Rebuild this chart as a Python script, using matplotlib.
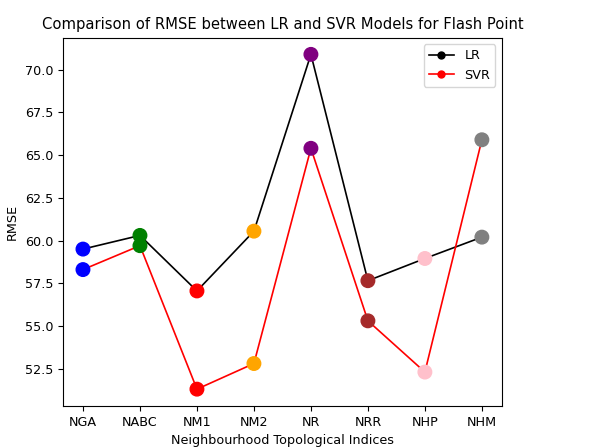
import matplotlib.pyplot as plt

indices = ['NGA', 'NABC', 'NM1', 'NM2', 'NR', 'NRR', 'NHP', 'NHM']
lr_rmse = [59.5, 60.3, 57.05, 60.55, 70.9, 57.65, 58.95, 60.2]
svr_rmse = [58.3, 59.7, 51.3, 52.8, 65.4, 55.3, 52.3, 65.9]
point_colors = ['blue', 'green', 'red', 'orange', 'purple', 'brown', 'pink', 'gray']

fig = plt.figure(figsize=(5.89, 4.48), dpi=100)
ax = fig.add_axes([0.107, 0.094, 0.745, 0.822])

# lines with small markers (these give the legend entries)
ax.plot(indices, lr_rmse, color='black', marker='o', markersize=5, linewidth=1.2, label='LR')
ax.plot(indices, svr_rmse, color='red', marker='o', markersize=5, linewidth=1.2, label='SVR')
# coloured dots per index on top
ax.scatter(indices, lr_rmse, c=point_colors, s=95, zorder=3)
ax.scatter(indices, svr_rmse, c=point_colors, s=95, zorder=3)

ax.set_xlabel('Neighbourhood Topological Indices', fontsize=9.2)
ax.set_ylabel('RMSE', fontsize=9.2)
ax.set_title('Comparison of RMSE between LR and SVR Models for Flash Point', fontsize=10.6)
ax.tick_params(labelsize=9.2)
ax.legend(loc='upper right', fontsize=9.2)

fig.savefig('out.png', dpi=100)
